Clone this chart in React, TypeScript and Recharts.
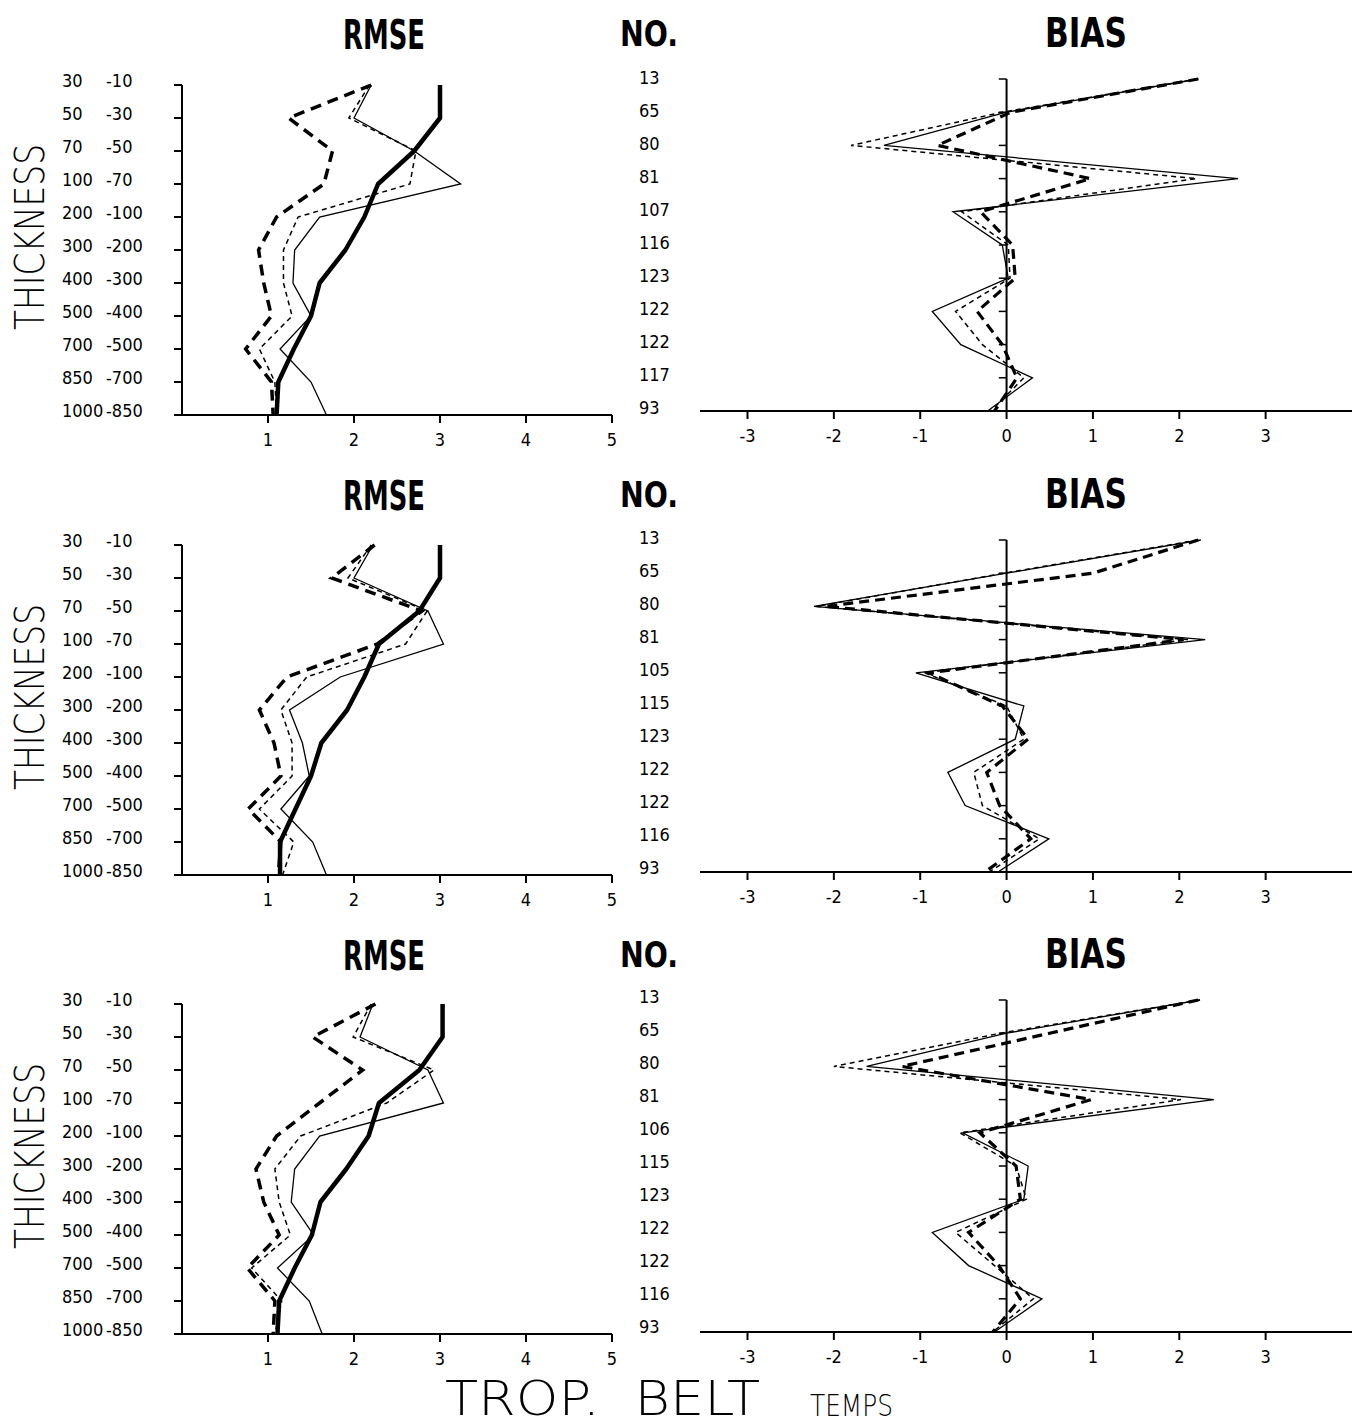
import React from 'react';
import { LineChart, Line, XAxis, YAxis, ReferenceLine } from 'recharts';

// pressure layers (top / bottom of each thickness)
const LEVEL_TOP = ['30', '50', '70', '100', '200', '300', '400', '500', '700', '850', '1000'];
const LEVEL_BOT = ['-10', '-30', '-50', '-70', '-100', '-200', '-300', '-400', '-500', '-700', '-850'];
const LEVEL_IDX = [0, 1, 2, 3, 4, 5, 6, 7, 8, 9, 10];

const RMSE_TICKS = [1, 2, 3, 4, 5];
const BIAS_TICKS = [-3, -2, -1, 0, 1, 2, 3];

// number of cases per layer
const NO_1 = [13, 65, 80, 81, 107, 116, 123, 122, 122, 117, 93];
const NO_2 = [13, 65, 80, 81, 105, 115, 123, 122, 122, 116, 93];
const NO_3 = [13, 65, 80, 81, 106, 115, 123, 122, 122, 116, 93];

// panel 1
const RMSE_1_THICK = [3.0, 3.0, 2.7, 2.28, 2.12, 1.9, 1.6, 1.5, 1.3, 1.12, 1.1];
const RMSE_1_TDASH = [2.2, 1.24, 1.75, 1.65, 1.1, 0.89, 0.95, 1.04, 0.74, 1.04, 1.06];
const RMSE_1_DASH = [2.18, 1.94, 2.72, 2.65, 1.35, 1.18, 1.18, 1.28, 0.9, 1.08, 1.1];
const RMSE_1_SOLID = [2.2, 2.0, 2.7, 3.24, 1.6, 1.31, 1.29, 1.5, 1.14, 1.5, 1.68];
const BIAS_1_SOLID = [2.22, 0.0, -1.42, 2.68, -0.62, -0.05, 0.02, -0.86, -0.53, 0.3, -0.22];
const BIAS_1_DASH = [2.22, -0.05, -1.8, 2.2, -0.52, 0.02, 0.04, -0.59, -0.28, 0.2, -0.18];
const BIAS_1_TDASH = [2.22, 0.05, -0.8, 0.97, -0.3, 0.07, 0.1, -0.34, -0.05, 0.12, -0.14];

// panel 2
const RMSE_2_THICK = [3.0, 3.0, 2.76, 2.29, 2.12, 1.92, 1.62, 1.5, 1.32, 1.14, 1.14];
const RMSE_2_TDASH = [2.24, 1.74, 2.79, 2.27, 1.22, 0.9, 1.07, 1.15, 0.77, 1.15, 1.12];
const RMSE_2_DASH = [2.2, 1.93, 2.85, 2.6, 1.45, 1.15, 1.28, 1.28, 0.9, 1.3, 1.17];
const RMSE_2_SOLID = [2.22, 2.0, 2.86, 3.04, 1.84, 1.25, 1.4, 1.48, 1.15, 1.52, 1.68];
const BIAS_2_SOLID = [2.25, 0.0, -2.23, 2.3, -1.05, 0.2, 0.1, -0.68, -0.48, 0.49, -0.1];
const BIAS_2_DASH = [2.22, -0.03, -2.2, 2.1, -0.95, 0.0, 0.2, -0.38, -0.28, 0.38, -0.2];
const BIAS_2_TDASH = [2.22, 1.0, -2.1, 2.05, -0.9, -0.05, 0.25, -0.23, -0.08, 0.28, -0.25];

// panel 3
const RMSE_3_THICK = [3.03, 3.03, 2.76, 2.29, 2.17, 1.91, 1.61, 1.51, 1.31, 1.13, 1.11];
const RMSE_3_TDASH = [2.25, 1.52, 2.1, 1.6, 1.1, 0.86, 0.95, 1.13, 0.76, 1.08, 1.06];
const RMSE_3_DASH = [2.2, 1.99, 2.93, 2.38, 1.38, 1.08, 1.13, 1.26, 0.81, 1.16, 1.08];
const RMSE_3_SOLID = [2.22, 2.07, 2.86, 3.04, 1.6, 1.31, 1.27, 1.53, 1.11, 1.48, 1.63];
const BIAS_3_SOLID = [2.24, 0.0, -1.62, 2.4, -0.51, 0.25, 0.2, -0.86, -0.44, 0.41, -0.14];
const BIAS_3_DASH = [2.24, -0.07, -2.0, 2.02, -0.54, 0.11, 0.23, -0.59, -0.14, 0.31, -0.16];
const BIAS_3_TDASH = [2.22, 0.5, -1.21, 0.98, -0.31, 0.11, 0.16, -0.44, -0.09, 0.16, -0.16];

const TICK_FONT = "'DejaVu Sans Condensed', 'DejaVu Sans', sans-serif";
const TITLE_FONT = "'DejaVu Sans Condensed', 'DejaVu Sans', sans-serif";
const THIN_FONT = "'DejaVu Sans', Lato, sans-serif";
const TICK_SIZE = 18;

const buildRmse = (thick: number[], tdash: number[], dash: number[], solid: number[]) =>
    LEVEL_IDX.map((i) => ({ idx: i, thick: thick[i], tdash: tdash[i], dash: dash[i], solid: solid[i] }));

const buildBias = (solid: number[], dash: number[], tdash: number[]) =>
    LEVEL_IDX.map((i) => ({ idx: i, solid: solid[i], dash: dash[i], tdash: tdash[i] }));

const ROWS = [
    { rmse: buildRmse(RMSE_1_THICK, RMSE_1_TDASH, RMSE_1_DASH, RMSE_1_SOLID), bias: buildBias(BIAS_1_SOLID, BIAS_1_DASH, BIAS_1_TDASH), no: NO_1, rmseTop: 85, biasTop: 79, titleY: 49 },
    { rmse: buildRmse(RMSE_2_THICK, RMSE_2_TDASH, RMSE_2_DASH, RMSE_2_SOLID), bias: buildBias(BIAS_2_SOLID, BIAS_2_DASH, BIAS_2_TDASH), no: NO_2, rmseTop: 545, biasTop: 540, titleY: 510 },
    { rmse: buildRmse(RMSE_3_THICK, RMSE_3_TDASH, RMSE_3_DASH, RMSE_3_SOLID), bias: buildBias(BIAS_3_SOLID, BIAS_3_DASH, BIAS_3_TDASH), no: NO_3, rmseTop: 1004, biasTop: 1000, titleY: 970 },
];

const MARGIN_TOP = 20;

function LevelTick(props: any) {
    const { x, y, payload } = props;
    const i = payload.value;
    return (
        <g fontFamily={TICK_FONT} fontSize={TICK_SIZE} fill="#000">
            <text x={x - 110} y={y - 4} dy="0.35em" textAnchor="start">{LEVEL_TOP[i]}</text>
            <text x={x - 66} y={y - 4} dy="0.35em" textAnchor="start">{LEVEL_BOT[i]}</text>
        </g>
    );
}

function makeNoTick(no: number[]) {
    return (props: any) => {
        const { x, y, payload } = props;
        return (
            <text x={x} y={y - 7} dy="0.35em" textAnchor="start" fontFamily={TICK_FONT} fontSize={TICK_SIZE} fill="#000">
                {no[payload.value]}
            </text>
        );
    };
}

function RmsePanel({ data, no, top }: { data: any[]; no: number[]; top: number }) {
    return (
        <div style={{ position: 'absolute', left: 0, top: top - MARGIN_TOP }}>
            <LineChart layout="vertical" width={700} height={MARGIN_TOP + 330 + 45} data={data}
                margin={{ top: MARGIN_TOP, right: 0, bottom: 0, left: 0 }}>
                <XAxis type="number" domain={[0, 5]} ticks={RMSE_TICKS} allowDataOverflow
                    stroke="#000" strokeWidth={2} tickSize={8} tickMargin={10} height={45}
                    tick={{ fill: '#000', fontSize: TICK_SIZE, fontFamily: TICK_FONT }} />
                <YAxis yAxisId="lev" type="number" dataKey="idx" domain={[0, 10]} ticks={LEVEL_IDX}
                    width={182} stroke="#000" strokeWidth={2} tickSize={8} tickMargin={2}
                    interval={0} tick={<LevelTick />} />
                <YAxis yAxisId="no" orientation="right" type="number" dataKey="idx" domain={[0, 10]}
                    ticks={LEVEL_IDX} width={88} axisLine={false} tickLine={false}
                    tickSize={0} tickMargin={27} interval={0} tick={makeNoTick(no)} />
                <Line yAxisId="lev" dataKey="solid" type="linear" stroke="#000" strokeWidth={1.3}
                    dot={false} isAnimationActive={false} />
                <Line yAxisId="lev" dataKey="dash" type="linear" stroke="#000" strokeWidth={1.5}
                    strokeDasharray="5 4" dot={false} isAnimationActive={false} />
                <Line yAxisId="lev" dataKey="tdash" type="linear" stroke="#000" strokeWidth={3.5}
                    strokeDasharray="11 7" dot={false} isAnimationActive={false} />
                <Line yAxisId="lev" dataKey="thick" type="linear" stroke="#000" strokeWidth={4.5}
                    strokeLinejoin="round" dot={false} isAnimationActive={false} />
            </LineChart>
        </div>
    );
}

function BiasPanel({ data, top }: { data: any[]; top: number }) {
    return (
        <div style={{ position: 'absolute', left: 700, top: top - MARGIN_TOP }}>
            <LineChart layout="vertical" width={652} height={MARGIN_TOP + 332 + 45} data={data}
                margin={{ top: MARGIN_TOP, right: 0, bottom: 0, left: 0 }}>
                <XAxis type="number" domain={[-3.55, 4]} ticks={BIAS_TICKS} allowDataOverflow
                    stroke="#000" strokeWidth={2} tickSize={8} tickMargin={10} height={45}
                    tick={{ fill: '#000', fontSize: TICK_SIZE, fontFamily: TICK_FONT }} />
                <YAxis type="number" dataKey="idx" domain={[0, 10]} hide />
                <ReferenceLine x={0} stroke="#000" strokeWidth={2} />
                {LEVEL_IDX.map((i) => (
                    <ReferenceLine key={i} segment={[{ x: -0.09, y: i }, { x: 0, y: i }]} stroke="#000" strokeWidth={1.5} />
                ))}
                <Line dataKey="solid" type="linear" stroke="#000" strokeWidth={1.3}
                    dot={false} isAnimationActive={false} />
                <Line dataKey="dash" type="linear" stroke="#000" strokeWidth={1.5}
                    strokeDasharray="5 4" dot={false} isAnimationActive={false} />
                <Line dataKey="tdash" type="linear" stroke="#000" strokeWidth={3.2}
                    strokeDasharray="10 6" dot={false} isAnimationActive={false} />
            </LineChart>
        </div>
    );
}

export default function App() {
    return (
        <div style={{ position: 'relative', width: 1355, height: 1427, background: '#fff', overflow: 'hidden' }}>
            <style>{'body{margin:0;background:#fff}'}</style>
            {ROWS.map((r, k) => (
                <React.Fragment key={k}>
                    <RmsePanel data={r.rmse} no={r.no} top={r.rmseTop} />
                    <BiasPanel data={r.bias} top={r.biasTop} />
                </React.Fragment>
            ))}
            <svg width={1355} height={1427} style={{ position: 'absolute', left: 0, top: 0, pointerEvents: 'none' }}>
                {ROWS.map((r, k) => (
                    <g key={k}>
                        <text x={343} y={r.titleY} textLength={82} lengthAdjust="spacingAndGlyphs"
                            fontFamily={TITLE_FONT} fontWeight="bold" fontSize={40}>RMSE</text>
                        <text x={620} y={r.titleY - 3} textLength={58} lengthAdjust="spacingAndGlyphs"
                            fontFamily={TITLE_FONT} fontWeight="bold" fontSize={36}>NO.</text>
                        <text x={1045} y={r.titleY - 2} textLength={82} lengthAdjust="spacingAndGlyphs"
                            fontFamily={TITLE_FONT} fontWeight="bold" fontSize={40}>BIAS</text>
                        <text transform={`translate(44, ${r.rmseTop + 152}) rotate(-90)`} textAnchor="middle"
                            textLength={186} lengthAdjust="spacingAndGlyphs"
                            fontFamily={THIN_FONT} fontWeight={200} fontSize={40}>THICKNESS</text>
                    </g>
                ))}
                <text x={445} y={1415} textLength={315} lengthAdjust="spacingAndGlyphs"
                    fontFamily={THIN_FONT} fontWeight={200} fontSize={48} xmlSpace="preserve">TROP.  BELT</text>
                <text x={810} y={1416} textLength={83} lengthAdjust="spacingAndGlyphs"
                    fontFamily={THIN_FONT} fontWeight={200} fontSize={30}>TEMPS</text>
            </svg>
        </div>
    );
}
